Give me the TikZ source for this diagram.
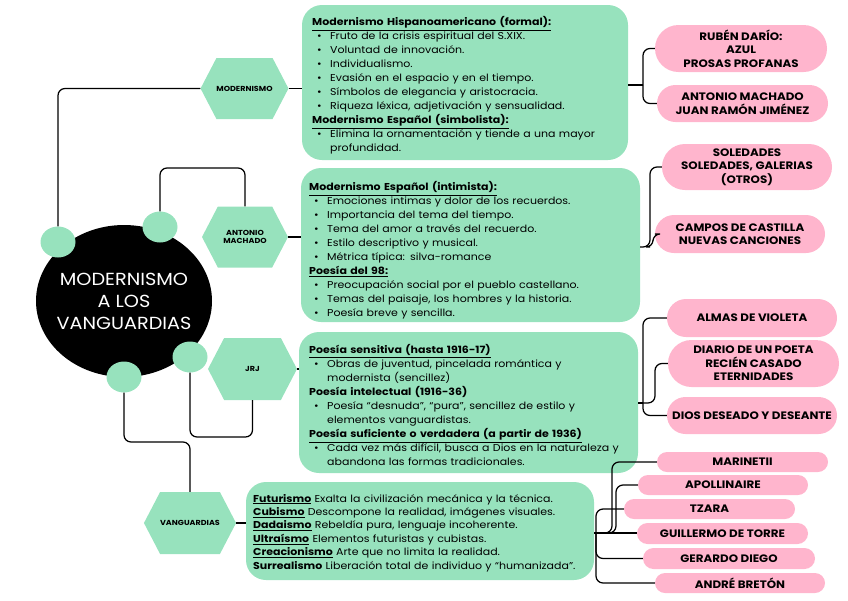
\documentclass[tikz,border=0pt]{standalone}
\usepackage{fontspec}
\setmainfont{Poppins}[FakeStretch=1.1]
\usetikzlibrary{shapes.geometric,shapes.misc,shapes.symbols}
\definecolor{gr}{HTML}{97E2BD}
\definecolor{pk}{HTML}{FFB5CD}
\setlength\parindent{0pt}
\newcommand\tstrut{\rule[-4pt]{0pt}{14pt}}
\newcommand\sstrut{\rule[-3.4pt]{0pt}{13.4pt}}
\newcommand\ull[1]{\smash{\underline{#1}}}
\newcommand\hd[1]{\par\tstrut\ull{\textbf{#1}}}
\newcommand\hb[1]{\par\tstrut\textbf{#1}}
\newcommand\bul[1]{\par\tstrut\hspace*{5pt}\makebox[13pt][l]{\textbullet}#1}
\newcommand\cnt[1]{\par\tstrut\hspace*{18pt}#1}
\newcommand\vgline[2]{\par\sstrut#1 #2}
\tikzset{
  conn/.style={draw=black, line width=1.25pt, rounded corners=7pt},
  gbox/.style={rectangle, rounded corners=20pt, fill=gr, inner sep=0pt},
  txt/.style={anchor=north west, inner sep=0pt, align=left, text width=335pt, font=\fontsize{10}{14}\selectfont},
  dot/.style={ellipse, fill=gr, minimum width=35pt, minimum height=31pt, inner sep=0pt},
  hex/.style={signal, signal to=east and west, signal pointer angle=125, fill=gr, minimum width=86pt, minimum height=61pt, inner sep=0pt, align=center, font=\bfseries\fontsize{7.3}{7.5}\selectfont},
  pill/.style={rounded rectangle, fill=pk, inner sep=0pt, align=center, font=\bfseries\fontsize{10.8}{13.5}\selectfont}
}
\begin{document}
\begin{tikzpicture}[x=1pt,y=-1pt]
\useasboundingbox (0,0) rectangle (848,600);
% green boxes
\node[gbox, minimum width=326pt, minimum height=155pt] (b1) at (465,82.5) {};
\node[gbox, minimum width=339pt, minimum height=154pt] (b2) at (470.5,245) {};
\node[gbox, minimum width=339pt, minimum height=141pt] (b3) at (468.5,402.5) {};
\node[gbox, minimum width=348pt, minimum height=98pt] (b4) at (420,531) {};
% texts
\node[txt] (t1) at (312,11.5) {%
\hd{Modernismo Hispanoamericano (formal):}
\bul{Fruto de la crisis espiritual del S.XIX.}
\bul{Voluntad de innovación.}
\bul{Individualismo.}
\bul{Evasión en el espacio y en el tiempo.}
\bul{Símbolos de elegancia y aristocracia.}
\bul{Riqueza léxica, adjetivación y sensualidad.}
\hd{Modernismo Español (simbolista):}
\bul{Elimina la ornamentación y tiende a una mayor}
\cnt{profundidad.}};
\node[txt] (t2) at (309,176.5) {%
\hd{Modernismo Español (intimista):}
\bul{Emociones intimas y dolor de los recuerdos.}
\bul{Importancia del tema del tiempo.}
\bul{Tema del amor a través del recuerdo.}
\bul{Estilo descriptivo y musical.}
\bul{Métrica típica: silva-romance}
\hd{Poesía del 98:}
\bul{Preocupación social por el pueblo castellano.}
\bul{Temas del paisaje, los hombres y la historia.}
\bul{Poesía breve y sencilla.}};
\node[txt] (t3) at (309,339.5) {%
\hd{Poesía sensitiva (hasta 1916-17)}
\bul{Obras de juventud, pincelada romántica y}
\cnt{modernista (sencillez)}
\hb{Poesía intelectual (1916-36)}
\bul{Poesía “desnuda”, “pura”, sencillez de estilo y}
\cnt{elementos vanguardistas.}
\hd{Poesía suficiente o verdadera (a partir de 1936)}
\bul{Cada vez más difícil, busca a Dios en la naturaleza y}
\cnt{abandona las formas tradicionales.}};
\node[txt, font=\fontsize{10}{13.4}\selectfont] (t4) at (253,488.5) {%
\vgline{\ull{\textbf{Futurismo}}}{Exalta la civilización mecánica y la técnica.}
\vgline{\ull{\textbf{Cubismo}}}{Descompone la realidad, imágenes visuales.}
\vgline{\ull{\textbf{Dadaismo}}}{Rebeldía pura, lenguaje incoherente.}
\vgline{\ull{\textbf{Ultraísmo}}}{Elementos futuristas y cubistas.}
\vgline{\ull{\textbf{Creacionismo}}}{Arte que no limita la realidad.}
\vgline{\textbf{Surrealismo}}{Liberación total de individuo y “humanizada”.}};
% hexagons
\node[hex] (hm) at (244.5,88.5) {MODERNISMO};
\node[hex] (ham) at (245,237) {ANTONIO\\MACHADO};
\node[hex, minimum width=89pt, minimum height=62pt] (hj) at (252.5,369) {JRJ};
\node[hex, minimum height=62pt] (hv) at (190,523) {VANGUARDIAS};
% pink pills
\node[pill, minimum width=172pt, minimum height=47pt] (p1) at (741,48.5) {RUBÉN DARÍO:\\AZUL\\PROSAS PROFANAS};
\node[pill, minimum width=171pt, minimum height=37pt] (p2) at (742.5,103.5) {ANTONIO MACHADO\\JUAN RAMÓN JIMÉNEZ};
\node[pill, minimum width=170pt, minimum height=46pt] (p3) at (747,167) {SOLEDADES\\SOLEDADES, GALERIAS\\(OTROS)};
\node[pill, minimum width=170pt, minimum height=38pt] (p4) at (740,234) {CAMPOS DE CASTILLA\\NUEVAS CANCIONES};
\node[pill, minimum width=170pt, minimum height=38pt] (p5) at (752,318) {ALMAS DE VIOLETA};
\node[pill, minimum width=171pt, minimum height=47pt] (p6) at (753.5,363.5) {DIARIO DE UN POETA\\RECIÉN CASADO\\ETERNIDADES};
\node[pill, minimum width=170pt, minimum height=37pt] (p7) at (752,415.5) {DIOS DESEADO Y DESEANTE};
\node[pill, minimum width=171pt, minimum height=20pt] (p8) at (742.5,462) {MARINETII};
\node[pill, minimum width=170pt, minimum height=20pt] (p9) at (723,485) {APOLLINAIRE};
\node[pill, minimum width=171pt, minimum height=20pt] (p10) at (709.5,509) {TZARA};
\node[pill, minimum width=171pt, minimum height=21pt] (p11) at (722.5,533.5) {GUILLERMO DE TORRE};
\node[pill, minimum width=172pt, minimum height=21pt] (p12) at (729,558.5) {GERARDO DIEGO};
\node[pill, minimum width=170pt, minimum height=20pt] (p13) at (740,583) {ANDRÉ BRETÓN};
% central ellipse and dots
\node[ellipse, fill=black, minimum width=176pt, minimum height=152pt, inner sep=0pt] (main) at (124,301) {};
\node[text=white, align=center, inner sep=0pt, font=\fontsize{17.5}{22}\selectfont] (mtext) at (main.center) {MODERNISMO\\A LOS\\VANGUARDIAS};
\node[dot] (c1) at (58,242) {};
\node[dot] (c2) at (160,227) {};
\node[dot] (c3) at (190,357) {};
\node[dot] (c4) at (124,377) {};
% helper coordinates
\coordinate (k2) at (200,168);
\coordinate (k3) at (220,437);
\coordinate (k4) at (150,442);
\coordinate (br1) at (643,85);
\coordinate (br2) at (650,247);
\coordinate (br2b) at (653,247);
\coordinate (br3) at (643,403);
\coordinate (br3b) at (655,403);
\coordinate (br4) at (596,533);
\coordinate (v8) at (612,533);
\coordinate (v9) at (616,533);
% connectors
\draw[conn] (c1.north) |- (hm.west);
\draw[conn] (c2.north) |- (k2) -| (ham.north);
\draw[conn] (c3.south) |- (k3) -| (hj.south);
\draw[conn] (c4.south) |- (k4) -| (hv.north);
\draw[conn] (hm.east) -- (b1.west |- hm.east);
\draw[conn] (ham.east) -- (b2.west |- ham.east);
\draw[conn] (hj.east) -- (b3.west |- hj.east);
\draw[conn] (hv.east) -- (b4.west |- hv.east);
\draw[conn] (b1.east |- br1) -- (br1);
\draw[conn] (br1) |- (p1.west);
\draw[conn] (br1) |- (p2.west);
\draw[conn] (b2.east |- br2) -- (br2) |- (p3.west);
\draw[conn] (br2) -- (br2b) |- (p4.west);
\draw[conn] (b3.east |- br3) -- (br3);
\draw[conn] (br3) |- (p5.west);
\draw[conn] (br3) |- (p7.west);
\draw[conn] (br3) -- (br3b) |- (p6.west);
\draw[conn] (b4.east |- br4) -- (p11.west |- br4);
\draw[conn] (br4) -- (v8) |- (p8.west);
\draw[conn] (br4) -- (v9) |- (p9.west);
\draw[conn] (br4) |- (p10.west);
\draw[conn] (br4) |- (p12.west);
\draw[conn] (br4) |- (p13.west);
\end{tikzpicture}
\end{document}
